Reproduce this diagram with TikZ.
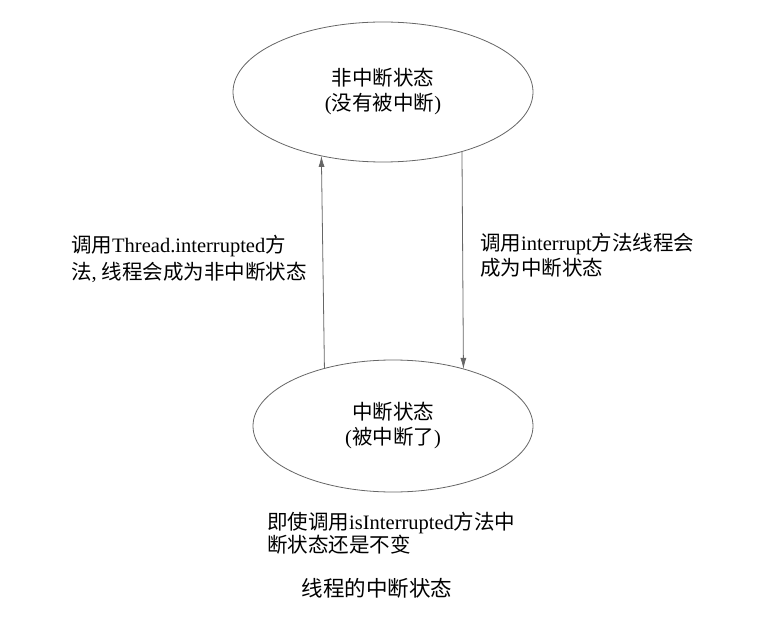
\documentclass[tikz,border=0pt]{standalone}
\usepackage{fontspec}
\setmainfont{Liberation Serif}
\newfontfamily\cjk{Noto Sans CJK SC}
\usetikzlibrary{shapes.geometric,arrows.meta}
\tikzset{
  state/.style={ellipse, draw=black!60, line width=0.8pt, inner sep=0pt, outer sep=0pt,
    align=center, font=\fontsize{20.5}{25}\selectfont},
  lbl/.style={anchor=west, align=left, inner sep=0pt, font=\fontsize{20.5}{27}\selectfont},
  conn/.style={draw=black!60, line width=0.8pt, -{Latex[length=11pt,width=6pt]}}
}
\begin{document}
\begin{tikzpicture}[x=1pt,y=1pt]
\path[use as bounding box] (0,0) rectangle (759,619);
\node[state, minimum width=300pt, minimum height=140pt] (top) at (383,527)
  {{\cjk 非中断状态}\\({\cjk 没有被中断})};
\node[state, minimum width=280pt, minimum height=132pt] (bot) at (393,193)
  {{\cjk 中断状态}\\({\cjk 被中断了})};
\draw[conn] (bot.140.7) -- (top.226.8);
\draw[conn] (top.323) -- (bot.39.8);
\node[lbl] (left) at (71,360.5)
  {{\cjk 调用}Thread.interrupted{\cjk 方}\\{\cjk 法}, {\cjk 线程会成为非中断状态}};
\node[lbl, font=\fontsize{20.5}{25}\selectfont] (right) at (480,363.5)
  {{\cjk 调用}interrupt{\cjk 方法线程会}\\{\cjk 成为中断状态}};
\node[lbl, font=\fontsize{20.5}{23}\selectfont] (note) at (267,86)
  {{\cjk 即使调用}isInterrupted{\cjk 方法中}\\{\cjk 断状态还是不变}};
\node[inner sep=0pt, font=\fontsize{21.5}{24}\selectfont] (cap) at (377,31) {\cjk 线程的中断状态};
\end{tikzpicture}
\end{document}
